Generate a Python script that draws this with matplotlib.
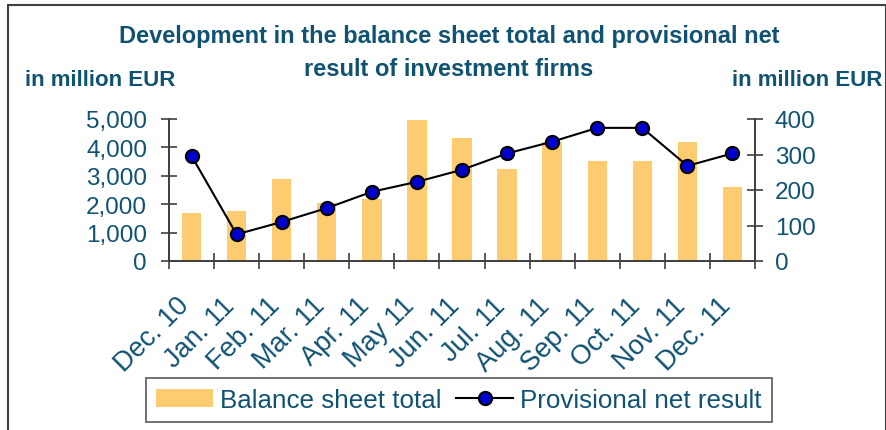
import matplotlib
matplotlib.use("Agg")
import matplotlib.pyplot as plt
from matplotlib.lines import Line2D
from matplotlib.patches import Patch, Rectangle
from matplotlib.transforms import ScaledTranslation

plt.rcParams['font.family'] = ['Liberation Sans', 'DejaVu Sans']

categories = ['Dec. 10', 'Jan. 11', 'Feb. 11', 'Mar. 11', 'Apr. 11', 'May 11',
              'Jun. 11', 'Jul. 11', 'Aug. 11', 'Sep. 11', 'Oct. 11', 'Nov. 11', 'Dec. 11']
balance_sheet_total = [1690, 1760, 2880, 2050, 2180, 4960, 4330, 3240, 4200, 3520, 3520, 4190, 2610]
net_result = [296, 75, 110, 149, 195, 223, 257, 303, 336, 375, 375, 268, 303]
left_ticks = [0, 1000, 2000, 3000, 4000, 5000]
left_tick_labels = ['0', '1,000', '2,000', '3,000', '4,000', '5,000']
right_ticks = [0, 100, 200, 300, 400]
right_tick_labels = ['0', '100', '200', '300', '400']

TEXT = '#0F5272'
AXC = '#404040'
BAR = '#FDCB70'
MARK = '#0000CC'

fig = plt.figure(figsize=(8.87, 4.31), dpi=100)
W, H = 887, 431
ax = fig.add_axes([169 / W, 1 - 262 / H, (755 - 169) / W, 142 / H])
ax2 = ax.twinx()

x = list(range(len(categories)))
ax.bar(x, balance_sheet_total, width=0.43, color=BAR, zorder=1)
ax2.plot(x, net_result, color='black', lw=1.5, marker='o', markersize=9.5,
         markerfacecolor=MARK, markeredgecolor='black', markeredgewidth=1.5, zorder=3)

ax.set_xlim(-0.5, len(categories) - 0.5)
ax.set_ylim(0, 5000)
ax2.set_ylim(0, 400)

for a in (ax, ax2):
    a.spines['top'].set_visible(False)
    for s in ('left', 'right', 'bottom'):
        a.spines[s].set_color(AXC)
        a.spines[s].set_linewidth(1.3)
    a.patch.set_visible(False)

ax.set_yticks(left_ticks)
ax.set_yticklabels(left_tick_labels)
ax.tick_params(axis='y', direction='inout', length=11.5, width=1.2, color=AXC,
               labelsize=17.5, labelcolor=TEXT, pad=10)
ax2.set_yticks(right_ticks)
ax2.set_yticklabels(right_tick_labels)
ax2.tick_params(axis='y', direction='inout', length=11.5, width=1.2, color=AXC,
                labelsize=17.5, labelcolor=TEXT, pad=8.5)

ax.set_xticks([i - 0.5 for i in range(len(categories) + 1)])
ax.set_xticklabels([])
ax.tick_params(axis='x', which='major', direction='inout', length=11.5, width=1.2, color=AXC)
ax.set_xticks(x, minor=True)
ax.set_xticklabels(categories, minor=True)
ax.tick_params(axis='x', which='minor', length=0, labelsize=19.5, labelcolor=TEXT, pad=29)
off = ScaledTranslation(-6 / 100, 0, fig.dpi_scale_trans)
for lab in ax.get_xticklabels(minor=True):
    lab.set_rotation(45)
    lab.set_ha('right')
    lab.set_va('center')
    lab.set_rotation_mode('anchor')
    lab.set_transform(lab.get_transform() + off)

fig.text(449 / W, 1 - 36 / H, 'Development in the balance sheet total and provisional net',
         ha='center', va='center', fontsize=17, fontweight='bold', color=TEXT)
fig.text(449 / W, 1 - 69 / H, 'result of investment firms',
         ha='center', va='center', fontsize=17, fontweight='bold', color=TEXT)
fig.text(25 / W, 1 - 81 / H, 'in million EUR', ha='left', va='center',
         fontsize=16, fontweight='bold', color=TEXT)
fig.text(882 / W, 1 - 81 / H, 'in million EUR', ha='right', va='center',
         fontsize=16, fontweight='bold', color=TEXT)

handles = [Patch(facecolor=BAR, edgecolor='none'),
           Line2D([], [], color='black', lw=1.5, marker='o', markersize=9.5,
                  markerfacecolor=MARK, markeredgecolor='black', markeredgewidth=1.5)]
leg = fig.legend(handles, ['Balance sheet total', 'Provisional net result'],
                 loc='center', bbox_to_anchor=(459 / W, 1 - 401 / H), ncol=2,
                 fontsize=18.7, frameon=True, fancybox=False, handlelength=2.2,
                 handleheight=0.65, handletextpad=0.27, columnspacing=0.54,
                 borderpad=0.38, labelcolor=TEXT)
leg.get_frame().set_edgecolor(AXC)
leg.get_frame().set_linewidth(1.3)

fig.patches.append(Rectangle((8 / W, -0.05), (886 - 8) / W, 1.05 - 6 / H,
                             transform=fig.transFigure, fill=False,
                             edgecolor=AXC, linewidth=1.5))

fig.savefig('out.png', dpi=100)
